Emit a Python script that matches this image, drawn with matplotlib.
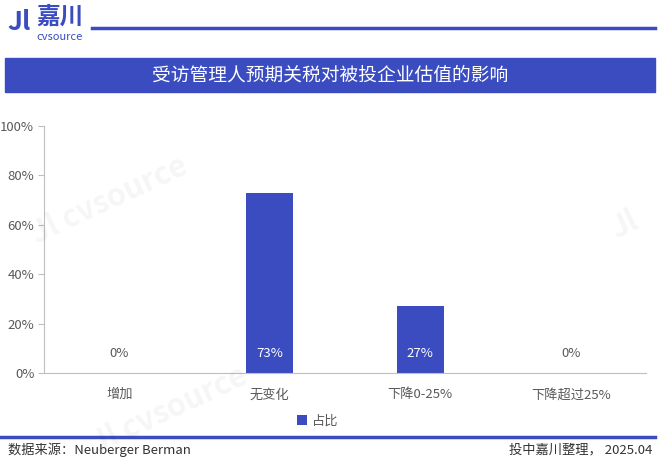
import matplotlib
matplotlib.use("Agg")
import matplotlib.pyplot as plt
from matplotlib.patches import Rectangle
from matplotlib.lines import Line2D

plt.rcParams['font.family'] = ['Noto Sans CJK SC', 'DejaVu Sans']

categories = ['增加', '无变化', '下降0-25%', '下降超过25%']
values = [0, 73, 27, 0]
series_name = '占比'
title = '受访管理人预期关税对被投企业估值的影响'
source = '数据来源：Neuberger Berman'
credit = '投中嘉川整理， 2025.04'

blue = '#3a4cc0'
grey = '#595959'
W, H = 660, 461

fig = plt.figure(figsize=(6.6, 4.61), dpi=100)


def fx(px):
    return px / W


def fy(py):
    return 1 - py / H


# header: logo text and rule
fig.text(fx(7), fy(22), 'Jl', color=blue, fontsize=19, fontweight='bold', va='center', ha='left')
fig.text(fx(36), fy(17), '嘉川', color=blue, fontsize=17, fontweight='bold', va='center', ha='left')
fig.text(fx(36), fy(37), 'cvsource', color=blue, fontsize=8, va='center', ha='left')
fig.add_artist(Line2D([fx(92), fx(655)], [fy(28), fy(28)], color=blue, lw=2.5))

# title banner
fig.add_artist(Rectangle((fx(5), fy(92)), fx(650), 34 / H, color=blue, transform=fig.transFigure))
fig.text(fx(330), fy(75), title, color='white', fontsize=13.5, ha='center', va='center')

# watermarks
for x, y, s in [(110, 200, 'Jl cvsource'), (170, 410, 'Jl cvsource'), (625, 225, 'Jl')]:
    fig.text(fx(x), fy(y), s, color='#000000', alpha=0.04, fontsize=22,
             fontweight='bold', rotation=25, ha='center', va='center')

ax = fig.add_axes([fx(44), fy(373), fx(602), 247 / H])
x = range(len(categories))
bars = ax.bar(x, values, width=0.31, color=blue, label=series_name)
for xi, v in zip(x, values):
    ax.text(xi, 7.7, f'{v}%', ha='center', va='center', fontsize=9.5,
            color='white' if v > 5 else grey)

ax.set_xlim(-0.5, 3.5)
ax.set_ylim(0, 100)
ax.set_yticks([0, 20, 40, 60, 80, 100])
ax.set_yticklabels([f'{t}%' for t in [0, 20, 40, 60, 80, 100]])
ax.set_xticks(list(x))
ax.set_xticklabels(categories)
ax.tick_params(axis='y', colors='#bfbfbf', labelcolor=grey, labelsize=9.5, length=4, pad=3)
ax.tick_params(axis='x', length=0, labelcolor=grey, labelsize=9.5, pad=11)
for s in ['top', 'right']:
    ax.spines[s].set_visible(False)
ax.spines['left'].set_color('#bfbfbf')
ax.spines['bottom'].set_color('#bfbfbf')
ax.set_facecolor('none')

fig.legend(handles=[bars], labels=[series_name], loc='center', bbox_to_anchor=(fx(318), fy(421)),
           frameon=False, fontsize=9.5, handlelength=0.7, handleheight=0.7, handletextpad=0.4,
           labelcolor=grey)

# footer
fig.add_artist(Line2D([fx(0), fx(655)], [fy(437), fy(437)], color=blue, lw=2.5))
fig.text(fx(8), fy(450), source, color='#333333', fontsize=9.5, ha='left', va='center')
fig.text(fx(652), fy(450), credit, color='#333333', fontsize=9.5, ha='right', va='center')

fig.savefig('out.png', dpi=100)
